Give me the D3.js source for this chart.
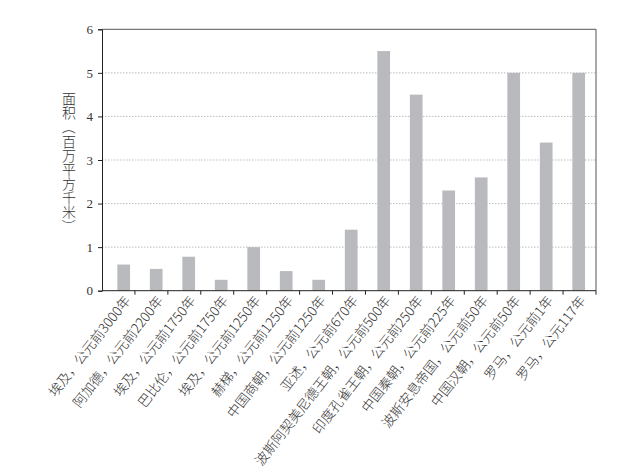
<!DOCTYPE html>
<html lang="zh-CN"><head><meta charset="utf-8">
<script src="https://cdn.jsdelivr.net/npm/d3@7"></script>
<style>
body{margin:0;background:#fff;}
text{font-family:"Noto Sans CJK SC","DejaVu Sans",sans-serif;fill:#333;}
</style></head>
<body><svg id="c" width="628" height="476"></svg>
<script>
const categories = ["埃及，公元前3000年","阿加德，公元前2200年","埃及，公元前1750年","巴比伦，公元前1750年","埃及，公元前1250年","赫梯，公元前1250年","中国商朝，公元前1250年","亚述，公元前670年","波斯阿契美尼德王朝，公元前500年","印度孔雀王朝，公元前250年","中国秦朝，公元前225年","波斯安息帝国，公元前50年","中国汉朝，公元前50年","罗马，公元前1年","罗马，公元117年"];
const values = [0.6,0.5,0.78,0.25,1.0,0.45,0.25,1.4,5.5,4.5,2.3,2.6,5.0,3.4,5.0];
const yTicks = [0,1,2,3,4,5,6];
const yTitle = "面积（百万平方千米）";

const svg = d3.select("#c");
const L=102, R=596, T=29.3, B=290.7;
const x = d3.scaleBand().domain(categories).range([L,R]).padding(0);
const xc = d3.scalePoint().domain(categories).range([123.7,578.7]);
const y = d3.scaleLinear().domain([0,6]).range([B,T]);
const bw = 12.7;

// grid
svg.append("g").selectAll("line").data(yTicks.filter(d=>d>0&&d<6)).join("line")
  .attr("x1",L).attr("x2",R).attr("y1",d=>y(d)).attr("y2",d=>y(d))
  .attr("stroke","#bbb").attr("stroke-width",1).attr("stroke-dasharray","1.5,1.5");

// bars
svg.append("g").selectAll("rect").data(values).join("rect")
  .attr("x",(d,i)=>xc(categories[i])-bw/2).attr("width",bw)
  .attr("y",d=>y(d)).attr("height",d=>B-y(d)).attr("fill","#b9babe");

// frame
svg.append("line").attr("x1",L).attr("x2",R).attr("y1",T).attr("y2",T).attr("stroke","#555");
svg.append("line").attr("x1",R).attr("x2",R).attr("y1",T).attr("y2",B).attr("stroke","#555");

// y axis
const ya = svg.append("g").attr("transform",`translate(${L},0)`)
  .call(d3.axisLeft(y).tickValues(yTicks).tickSize(4).tickPadding(5).tickFormat(d3.format("d")));
ya.select(".domain").attr("stroke","#222");
ya.selectAll(".tick line").attr("stroke","#222");
ya.selectAll("text").attr("font-size",13).attr("fill","#333").style("font-family","'Liberation Serif',serif");

// x axis ticks at band boundaries
const xa = svg.append("g").attr("transform",`translate(0,${B})`);
xa.append("line").attr("x1",L).attr("x2",R).attr("stroke","#222");
xa.selectAll(".tk").data(categories.slice(1)).join("line").attr("class","tk")
  .attr("x1",d=>x(d)).attr("x2",d=>x(d)).attr("y1",0).attr("y2",4).attr("stroke","#222");
xa.append("line").attr("x1",R).attr("x2",R).attr("y1",0).attr("y2",4).attr("stroke","#222");

// x labels
svg.append("g").selectAll("text").data(categories).join("text")
  .attr("transform",d=>`translate(${xc(d)+4},${B+7}) rotate(-52)`)
  .attr("text-anchor","end").attr("dy","0.35em")
  .attr("font-size",13.5).attr("font-weight",300).attr("fill","#333")
  .text(d=>d);

// y title: one text turned 90°, ideographs turned back upright, brackets left turned
const fs = 14, step = 14.1;
const yt = svg.append("text").attr("transform","translate(69,92) rotate(90)")
  .attr("font-size",fs).attr("font-weight",300).attr("fill","#333");
Array.from(yTitle).forEach((ch,i)=>{
  const br = (ch==="（"||ch==="）");
  yt.append("tspan")
    .attr("x", br ? i*step : i*step + 0.88*fs)
    .attr("y", br ? 0.38*fs : 0.5*fs)
    .attr("rotate", br ? 0 : -90)
    .text(ch);
});
</script></body></html>
